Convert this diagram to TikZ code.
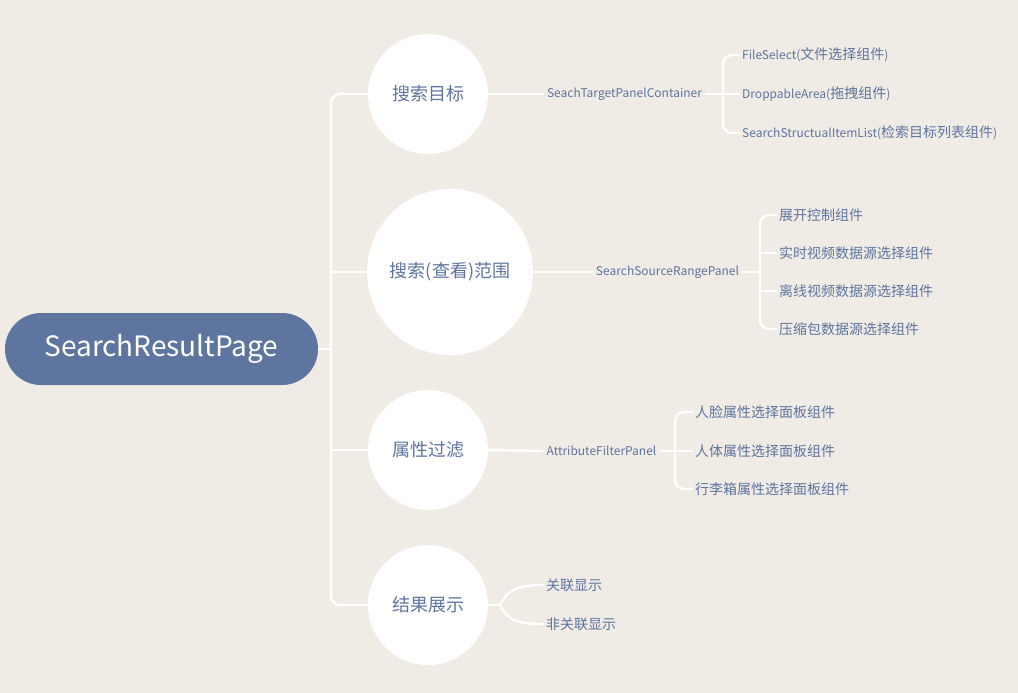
\documentclass[tikz,border=0pt]{standalone}
\usepackage{fontspec}
\setmainfont{Noto Sans CJK SC}
\definecolor{bgbeige}{RGB}{240,235,229}
\definecolor{inkblue}{RGB}{94,117,160}
\newcommand{\latinpart}[1]{{\fontsize{12}{14}\selectfont #1}}
\tikzset{
  link/.style={draw=white, line width=2.4pt},
  rootbox/.style={rectangle, rounded corners=36pt, fill=inkblue, text=white,
    minimum width=313pt, minimum height=72pt, font=\fontsize{28}{32}\selectfont},
  topic/.style={circle, fill=white, text=inkblue, inner sep=0pt,
    font=\fontsize{18}{21}\selectfont},
  panel/.style={text=inkblue, inner sep=3pt, font=\fontsize{12}{14}\selectfont},
  leaf/.style={anchor=west, text=inkblue, inner sep=2pt,
    font=\fontsize{14}{16}\selectfont},
}
\begin{document}
\begin{tikzpicture}[x=1pt,y=1pt,yscale=-1]
 \fill[bgbeige] (0,0) rectangle (1018,693);
 \useasboundingbox (0,0) rectangle (1018,693);

 % root
 \node[rootbox] (root) at (161.5,349) {SearchResultPage};
 \coordinate (trunk) at (331,349);

 % topics
 \node[topic, minimum size=120pt] (t1) at (428,94) {搜索目标};
 \node[topic, minimum size=166pt] (t2) at (450,272) {搜索(查看)范围};
 \node[topic, minimum size=120pt] (t3) at (428,450) {属性过滤};
 \node[topic, minimum size=120pt] (t4) at (428,605) {结果展示};

 \draw[link] (root.east) -- (trunk);
 \draw[link, rounded corners=9pt] (t1.west) -| (trunk) |- (t4.west);
 \draw[link] (trunk |- t2.west) -- (t2.west);
 \draw[link] (trunk |- t3.west) -- (t3.west);

 % branch 1
 \node[panel] (b1) at (624.5,94) {SeachTargetPanelContainer};
 \coordinate (j1) at (723,94);
 \node[leaf] (k11) at (740,55) {\latinpart{FileSelect(}文件选择组件\latinpart{)}};
 \node[leaf] (k12) at (740,94) {\latinpart{DroppableArea(}拖拽组件\latinpart{)}};
 \node[leaf] (k13) at (740,133) {\latinpart{SearchStructualItemList(}检索目标列表组件\latinpart{)}};
 \draw[link] (t1.east) -- (b1.west);
 \draw[link] (b1.east) -- (j1) -- (k12.west);
 \draw[link, rounded corners=9pt] (k11.west) -| (j1) |- (k13.west);

 % branch 2
 \node[panel] (b2) at (667.5,272) {SearchSourceRangePanel};
 \coordinate (j2) at (760,272);
 \node[leaf] (k21) at (777,215) {展开控制组件};
 \node[leaf] (k22) at (777,253) {实时视频数据源选择组件};
 \node[leaf] (k23) at (777,291) {离线视频数据源选择组件};
 \node[leaf] (k24) at (777,329) {压缩包数据源选择组件};
 \draw[link] (t2.east) -- (b2.west);
 \draw[link] (b2.east) -- (j2);
 \draw[link, rounded corners=9pt] (k21.west) -| (j2) |- (k24.west);
 \draw[link] (j2 |- k22.west) -- (k22.west);
 \draw[link] (j2 |- k23.west) -- (k23.west);

 % branch 3
 \node[panel] (b3) at (601.5,451) {AttributeFilterPanel};
 \coordinate (j3) at (675,451);
 \node[leaf] (k31) at (693,412) {人脸属性选择面板组件};
 \node[leaf] (k32) at (693,451) {人体属性选择面板组件};
 \node[leaf] (k33) at (693,489) {行李箱属性选择面板组件};
 \draw[link] (t3.east) -- (b3.west);
 \draw[link] (b3.east) -- (j3) -- (k32.west);
 \draw[link, rounded corners=9pt] (k31.west) -| (j3) |- (k33.west);

 % branch 4
 \coordinate (j4) at (500,605);
 \node[leaf] (k41) at (544,585) {关联显示};
 \node[leaf] (k42) at (544,624) {非关联显示};
 \draw[link] (t4.east) -- (j4);
 \draw[link] (j4) .. controls (507,590) and (517,585) .. (k41.west);
 \draw[link] (j4) .. controls (507,620) and (517,624) .. (k42.west);
\end{tikzpicture}
\end{document}
